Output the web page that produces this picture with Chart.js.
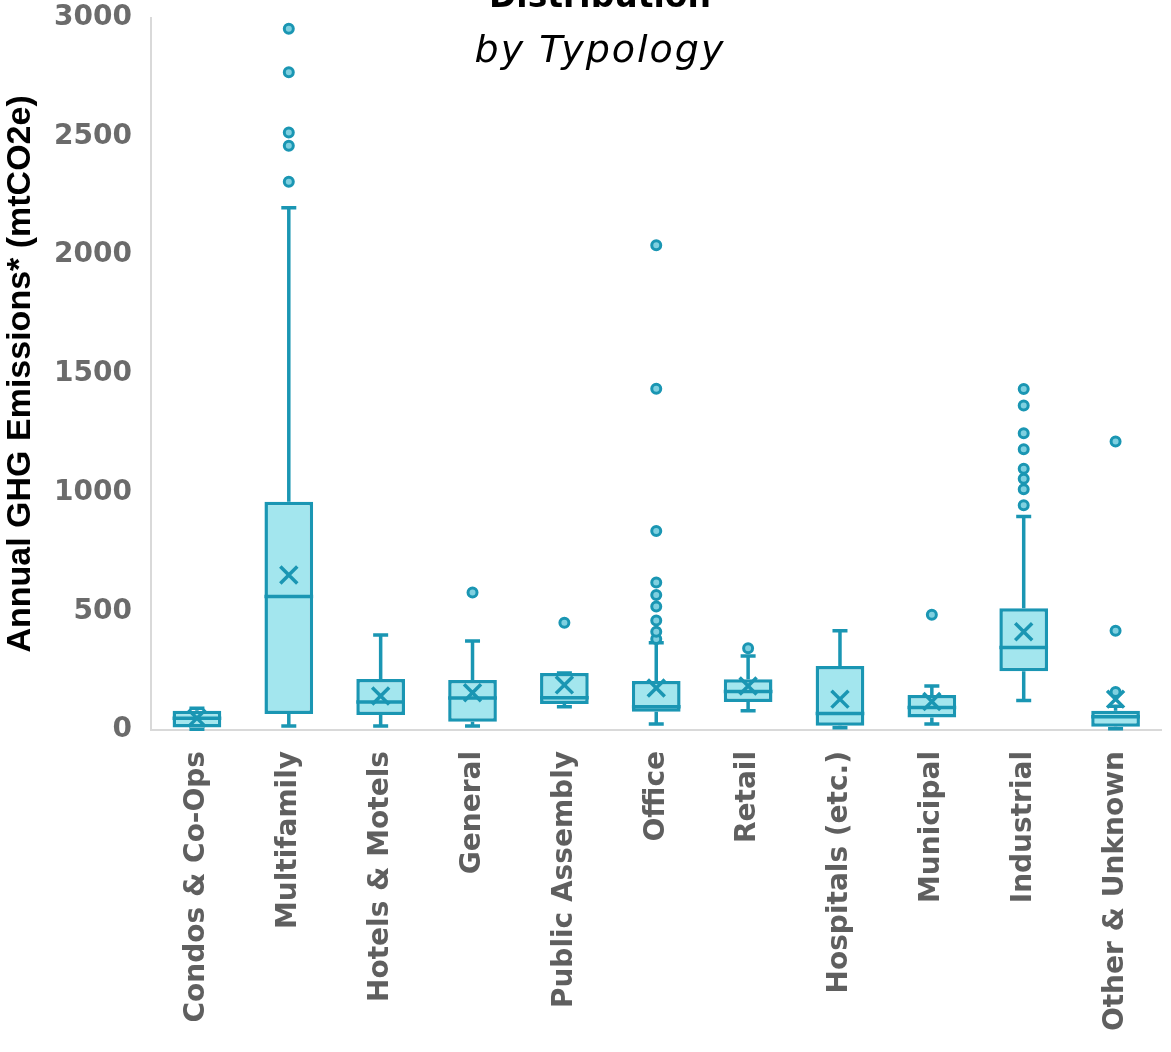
<!DOCTYPE html>
<html><head><meta charset="utf-8">
<script src="https://cdn.jsdelivr.net/npm/chart.js@4.4.0/dist/chart.umd.min.js"></script>
<style>
html,body{margin:0;padding:0;background:#fff;overflow:hidden;}
#wrap{position:relative;width:1171px;height:1052px;overflow:hidden;}
canvas{position:absolute;left:0;top:-18px;}
#title{position:absolute;left:0;width:1200px;top:-21px;text-align:center;font:bold 33px/33px "DejaVu Sans";color:#000;}
#sub{position:absolute;left:0;width:1200px;top:30px;text-align:center;font:italic 38px/38px "DejaVu Sans";letter-spacing:2px;color:#000;}
</style></head><body>
<div id="wrap"><canvas id="c" width="1177" height="1070"></canvas>
<div id="title">Distribution</div><div id="sub">by Typology</div></div>
<script>
const categories = ["Condos & Co-Ops","Multifamily","Hotels & Motels","General","Public Assembly","Office","Retail","Hospitals (etc.)","Municipal","Industrial","Other & Unknown"];
const whiskerLow  = [3, 17, 17, 17, 98, 25, 81, 10, 25, 124, 5];
const q1          = [11, 67, 63, 35, 110, 77, 118, 18, 53, 247, 14];
const medians     = [50, 562, 118, 135, 136, 98, 162, 70, 95, 347, 56];
const q3          = [81, 961, 215, 211, 240, 206, 214, 270, 147, 513, 81];
const whiskerHigh = [92, 2200, 400, 375, 240, 368, 312, 418, 185, 899, 100];
const means       = [50, 653, 143, 157, 190, 177, 185, 130, 120, 414, 130];
const outliers = [
  [],
  [2309, 2461, 2517, 2771, 2954],
  [],
  [579],
  [452],
  [383, 414, 461, 520, 569, 621, 838, 1437, 2042],
  [344],
  [],
  [485],
  [947, 1014, 1058, 1100, 1183, 1250, 1367, 1436],
  [160, 418, 1215]
];
const yTicks = [0, 500, 1000, 1500, 2000, 2500, 3000];

const STROKE = '#1a96b3';
const FILL = '#a3e6ee';

const outlierPoints = [];
outliers.forEach((arr, i) => arr.forEach(v => outlierPoints.push({x: categories[i], y: v})));

const boxExtras = {
  id: 'boxExtras',
  beforeDatasetsDraw(chart) {
    const ctx = chart.ctx, xs = chart.scales.x, ys = chart.scales.y;
    ctx.save();
    ctx.strokeStyle = STROKE;
    ctx.lineWidth = 3.5;
    categories.forEach((c, i) => {
      const x = xs.getPixelForValue(i);
      const capW = 15;
      const yHi = ys.getPixelForValue(whiskerHigh[i]);
      const yQ3 = ys.getPixelForValue(q3[i]);
      const yLo = ys.getPixelForValue(whiskerLow[i]);
      const yQ1 = ys.getPixelForValue(q1[i]);
      ctx.beginPath();
      ctx.moveTo(x, yHi); ctx.lineTo(x, yQ3);
      ctx.moveTo(x, yLo); ctx.lineTo(x, yQ1);
      ctx.moveTo(x - capW / 2, yHi); ctx.lineTo(x + capW / 2, yHi);
      ctx.moveTo(x - capW / 2, yLo); ctx.lineTo(x + capW / 2, yLo);
      ctx.stroke();
    });
    ctx.restore();
  },
  afterDatasetDraw(chart, args) {
    if (args.index !== 0) return;
    const ctx = chart.ctx, xs = chart.scales.x, ys = chart.scales.y;
    const meta = chart.getDatasetMeta(0);
    ctx.save();
    ctx.strokeStyle = STROKE;
    ctx.lineWidth = 3.5;
    categories.forEach((c, i) => {
      const el = meta.data[i];
      const x = xs.getPixelForValue(i);
      const w = el.width;
      const y = ys.getPixelForValue(medians[i]);
      ctx.beginPath();
      ctx.moveTo(x - w / 2, y); ctx.lineTo(x + w / 2, y);
      ctx.stroke();
    });
    ctx.restore();
  }
};

new Chart(document.getElementById('c'), {
  data: {
    labels: categories,
    datasets: [
      {
        type: 'bar',
        data: categories.map((c, i) => [q1[i], q3[i]]),
        backgroundColor: FILL,
        borderColor: STROKE,
        borderWidth: 3.5,
        borderSkipped: false,
        barPercentage: 0.53,
        categoryPercentage: 1,
        order: 10
      },
      {
        type: 'line',
        data: means,
        showLine: false,
        pointStyle: 'crossRot',
        pointRadius: 12,
        pointBorderWidth: 3.5,
        pointBorderColor: STROKE,
        pointBackgroundColor: STROKE,
        order: 2
      },
      {
        type: 'line',
        data: outlierPoints,
        showLine: false,
        pointStyle: 'circle',
        pointRadius: 4.5,
        pointBorderWidth: 3,
        pointBorderColor: STROKE,
        pointBackgroundColor: '#7fd0e0',
        order: 1
      }
    ]
  },
  options: {
    responsive: false,
    animation: false,
    devicePixelRatio: 1,
    layout: { padding: { top: 0, right: 0, left: 0, bottom: 0 } },
    plugins: { legend: { display: false }, tooltip: { enabled: false }, title: { display: false } },
    scales: {
      x: {
        type: 'category',
        grid: { display: false, drawTicks: false },
        border: { display: true, color: '#d9d9d9', width: 2 },
        ticks: {
          maxRotation: 90, minRotation: 90, padding: 21, autoSkip: false,
          color: '#5f5f5f',
          font: { family: 'DejaVu Sans', weight: 'bold', size: 28 }
        },
        afterFit: s => { s.height = 322; }
      },
      y: {
        min: 0, max: 3000,
        afterBuildTicks: s => { s.ticks = yTicks.map(v => ({ value: v })); },
        grid: { display: false, drawTicks: false },
        border: { display: true, color: '#d9d9d9', width: 2 },
        ticks: {
          padding: 19,
          color: '#6b6b6b',
          callback: v => String(v),
          font: { family: 'DejaVu Sans', weight: 'bold', size: 28 }
        },
        title: {
          display: true,
          text: 'Annual GHG Emissions* (mtCO2e)',
          color: '#000',
          font: { family: 'Liberation Sans', weight: 'bold', size: 34 },
          padding: { top: 0, bottom: 0 }
        },
        afterFit: s => { s.width = 151; }
      }
    }
  },
  plugins: [boxExtras]
});
</script>
</body></html>
